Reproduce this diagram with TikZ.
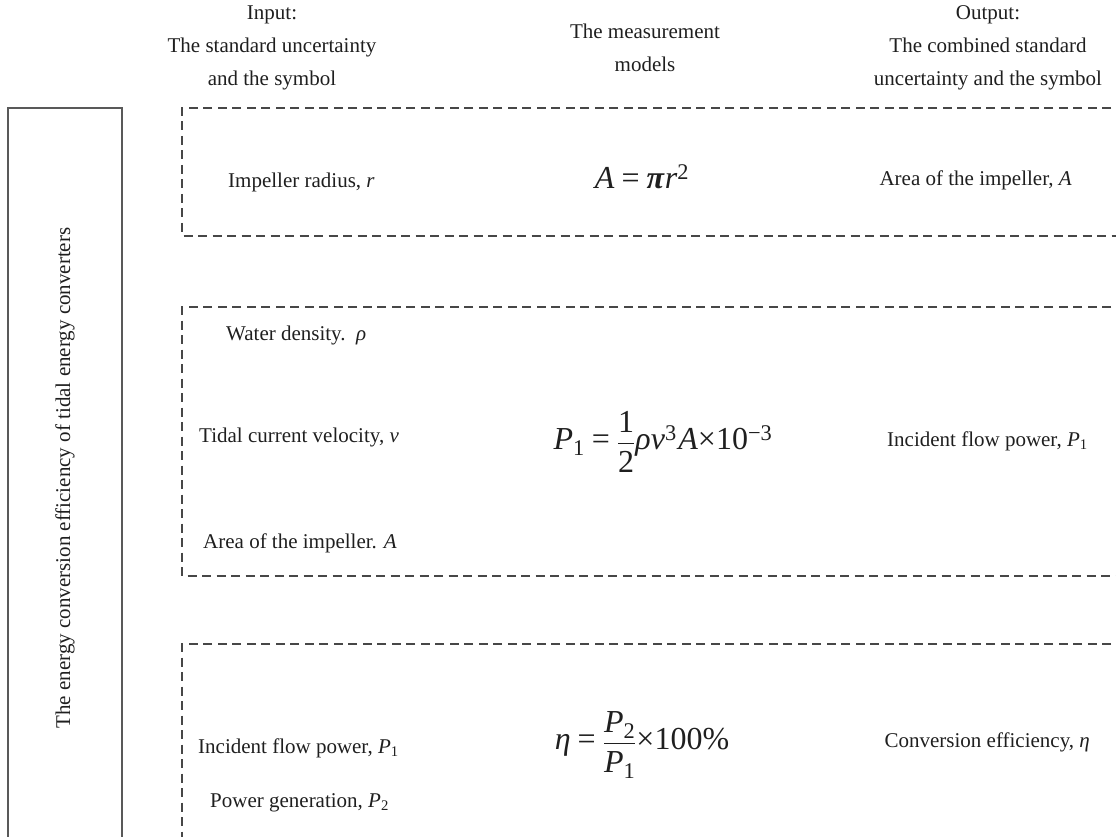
\documentclass[tikz,border=0pt]{standalone}
\usepackage{fontspec}
\setmainfont{Liberation Serif}
\newcommand{\eqsp}{\hspace{0.22em}}
\newcommand{\numstrut}{\rule[-7pt]{0pt}{7pt}}
\newcommand{\denstrut}{\rule{0pt}{28pt}}
\tikzset{
  x=1pt, y=-1pt,
  txt/.style={font=\fontsize{21}{25}\selectfont, text=black!88, inner sep=0pt},
  hdr/.style={txt, align=center, font=\fontsize{21}{33}\selectfont},
  eqn/.style={font=\fontsize{32}{38}\selectfont, text=black!88, inner sep=0pt},
  dbox/.style={draw=black!72, line width=1.1pt, dash pattern=on 9pt off 5.5pt},
  sbox/.style={draw=black!65, line width=1.4pt},
}
\begin{document}
\begin{tikzpicture}
\useasboundingbox (0,0) rectangle (1116,837);
\clip (0,0) rectangle (1116,837);
% headers
\node[hdr] (hin) at (272,48) {Input:\\The standard uncertainty\\and the symbol};
\node[hdr] (hmod) at (645,48) {The measurement\\models};
\node[hdr] (hout) at (988,48) {Output:\\The combined standard\\uncertainty and the symbol};
% left box
\draw[sbox] (8,900) -- (8,108) -- (122,108) -- (122,900);
\node[txt, rotate=90] (title) at (65,478) {The energy conversion efficiency of tidal energy converters};
% dashed boxes
\draw[dbox] (1140,108) -- (182,108) -- (182,236) -- (1140,236);
\draw[dbox] (1140,307) -- (182,307) -- (182,576) -- (1140,576);
\draw[dbox] (1140,644) -- (182,644) -- (182,900);
% box 1
\node[txt, anchor=west] (r) at (228,182) {Impeller radius, \textit{r}};
\node[eqn] (eqA) at (642,177) {\textit{A}\eqsp=\eqsp\textbf{\textit{π}}\textit{r}\textsuperscript{2}};
\node[txt, anchor=east] (A) at (1072,180) {Area of the impeller, \textit{A}};
% box 2
\node[txt, anchor=west] (rho) at (226,335) {Water density.\enspace\textit{ρ}};
\node[txt, anchor=west] (v) at (199,437) {Tidal current velocity, \textit{v}};
\node[txt, anchor=west] (Ain) at (203,543) {Area of the impeller. \textit{A}};
\node[eqn] (eqP) at (663,442) {\textit{P}\textsubscript{1}\eqsp=\eqsp$\displaystyle\frac{\mbox{1}\numstrut}{\denstrut\mbox{2}}$\textit{ρv}\textsuperscript{3}\hspace{0.05em}\textit{A}×10\textsuperscript{−3}};
\node[txt, anchor=east] (P1out) at (1088,441) {Incident flow power, \textit{P}\textsubscript{1}};
% box 3
\node[txt, anchor=west] (P1in) at (198,748) {Incident flow power, \textit{P}\textsubscript{1}};
\node[txt, anchor=west] (P2in) at (210,803) {Power generation, \textit{P}\textsubscript{2}};
\node[eqn] (eqE) at (642,745) {\textit{η}\eqsp=\eqsp$\displaystyle\frac{\mbox{\textit{P}\textsubscript{2}}\numstrut}{\denstrut\mbox{\textit{P}\textsubscript{1}}}$×100\%};
\node[txt, anchor=east] (eta) at (1090,742) {Conversion efficiency, \textit{η}};
\end{tikzpicture}
\end{document}
